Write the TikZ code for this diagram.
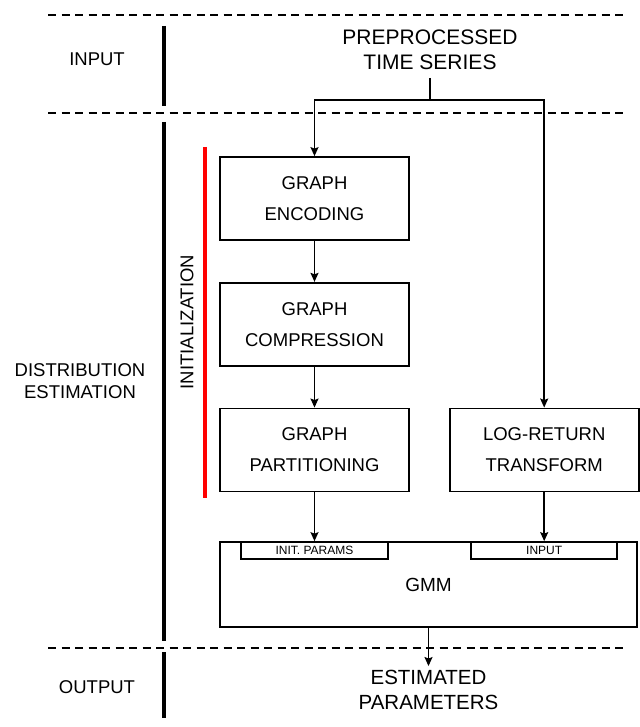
\documentclass[tikz,border=0pt]{standalone}
\usepackage{fontspec}
\setmainfont{Liberation Sans}
\usetikzlibrary{positioning, arrows.meta}

\begin{document}
\begin{tikzpicture}[
  x=1pt, y=-1pt,
  node distance=41pt,
  stage/.style={rectangle, draw, line width=1.7pt, minimum width=189pt, minimum height=83pt, inner sep=0pt, align=center, font=\fontsize{18.5}{31}\selectfont},
  slot/.style={rectangle, draw, line width=1.7pt, minimum width=147pt, minimum height=17pt, inner sep=0pt, anchor=north, font=\fontsize{12}{12}\selectfont},
  phase/.style={align=center, inner sep=0pt, font=\fontsize{18.5}{22}\selectfont},
  flow/.style={-{Stealth[length=9pt, width=8pt, inset=1.5pt]}, line width=1.5pt},
  divider/.style={dash pattern=on 8pt off 5.5pt, line width=1.7pt},
  lane/.style={line width=4pt},
]
\useasboundingbox (0,0) rectangle (639,727);

% section dividers and lanes
\foreach \y in {15,113,648}
  \draw[divider] (48,\y) -- (624,\y);
\draw[lane] (164,26) -- (164,106);
\draw[lane] (164,122) -- (164,641);
\draw[lane] (164,652) -- (164,718);
\draw[lane, red, line width=3.6pt] (205,147) -- (205,498);

\node[phase] (pin) at (97,59) {INPUT};
\node[phase] (pest) at (80,381) {DISTRIBUTION\\ESTIMATION};
\node[phase] (pout) at (97,687) {OUTPUT};
\node[phase, rotate=90] (pinit) at (187,322) {INITIALIZATION};

\node[phase, font=\fontsize{21}{25}\selectfont] (src) at (430,50) {PREPROCESSED\\TIME SERIES};
\coordinate (fork) at (431,100);

\node[stage] (enc) at (314.5,198.5) {GRAPH\\ENCODING};
\node[stage, below=of enc] (comp) {GRAPH\\COMPRESSION};
\node[stage, below=of comp] (part) {GRAPH\\PARTITIONING};
\node[stage, right=39pt of part] (logr) {LOG-RETURN\\TRANSFORM};

\node[stage, minimum width=417pt, minimum height=85pt, font=\fontsize{19}{19}\selectfont] (gmm) at (428.5,584.5) {GMM};
\node[slot] (init) at (part |- gmm.north) {INIT. PARAMS};
\node[slot, minimum width=146pt] (gin) at (logr |- gmm.north) {INPUT};

\node[phase, font=\fontsize{20.5}{25}\selectfont] (est) at (428.5,690) {ESTIMATED\\PARAMETERS};

\draw[line width=1.5pt] (src.south |- 0,78) -- (src.south |- fork);
\draw[flow] (fork) -| (enc.north);
\draw[flow] (fork) -| (logr.north);
\draw[flow] (enc) -- (comp);
\draw[flow] (comp) -- (part);
\draw[flow] (part) -- (init);
\draw[flow] (logr) -- (gin);
\draw[flow, shorten >=4pt] (gmm) -- (est);
\end{tikzpicture}
\end{document}
